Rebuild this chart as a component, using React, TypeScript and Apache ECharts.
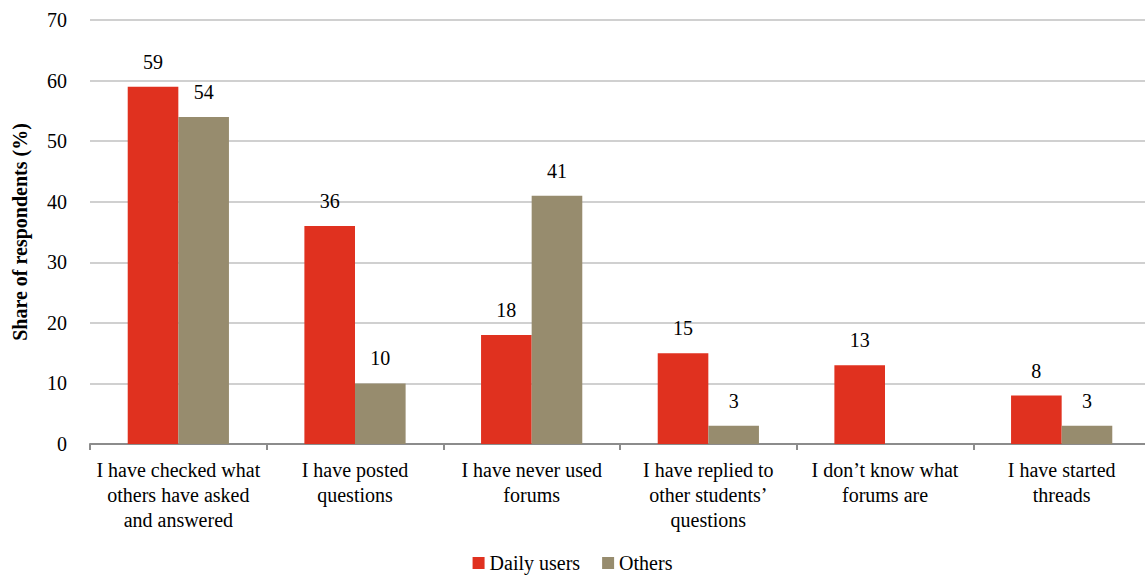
import React, { useEffect, useRef } from "react";
import * as echarts from "echarts";

// Forum activity by respondent group
const categories = [
  "I have checked what\nothers have asked\nand answered",
  "I have posted\nquestions",
  "I have never used\nforums",
  "I have replied to\nother students’\nquestions",
  "I don’t know what\nforums are",
  "I have started\nthreads",
];
const dailyUsers = [59, 36, 18, 15, 13, 8];
const others: (number | null)[] = [54, 10, 41, 3, null, 3];
const yTicks = { min: 0, max: 70, interval: 10 };

const FONT = "Times New Roman, serif";
const FS = 20;
const RED = "#E0311F";
const TAN = "#978C6E";

export default function App() {
  const ref = useRef<HTMLDivElement>(null);

  useEffect(() => {
    if (!ref.current) return;
    const chart = echarts.init(ref.current, null, { renderer: "svg" });
    const label = {
      show: true,
      position: "top" as const,
      distance: 15,
      color: "#000",
      fontFamily: FONT,
      fontSize: FS,
    };
    chart.setOption({
      animation: false,
      textStyle: { fontFamily: FONT },
      grid: {
        left: 90,
        right: -5,
        top: 20,
        bottom: 135,
        containLabel: false,
        outerBoundsMode: "none",
      },
      legend: {
        bottom: 1,
        left: "center",
        itemWidth: 12,
        itemHeight: 12,
        itemGap: 22,
        icon: "rect",
        textStyle: { fontFamily: FONT, fontSize: FS, color: "#000" },
        data: ["Daily users", "Others"],
      },
      xAxis: {
        type: "category",
        data: categories,
        axisLine: { lineStyle: { color: "#8C8C8C", width: 2 } },
        axisTick: { show: true, length: 6, lineStyle: { color: "#8C8C8C", width: 2 } },
        axisLabel: {
          color: "#000",
          fontFamily: FONT,
          fontSize: FS,
          lineHeight: 25,
          margin: 13,
          interval: 0,
        },
      },
      yAxis: {
        type: "value",
        min: yTicks.min,
        max: yTicks.max,
        interval: yTicks.interval,
        name: "Share of respondents (%)",
        nameLocation: "middle",
        nameGap: 60,
        nameTextStyle: { fontFamily: FONT, fontSize: FS, fontWeight: "bold", color: "#000" },
        axisLine: { show: false },
        axisTick: { show: false },
        axisLabel: { color: "#000", fontFamily: FONT, fontSize: FS, margin: 23 },
        splitLine: { lineStyle: { color: "#C0C0C0", width: 1.5 } },
      },
      series: [
        {
          name: "Daily users",
          type: "bar",
          data: dailyUsers,
          itemStyle: { color: RED },
          barGap: "0%",
          barCategoryGap: "42.7%",
          label,
        },
        {
          name: "Others",
          type: "bar",
          data: others,
          itemStyle: { color: TAN },
          barGap: "0%",
          barCategoryGap: "42.7%",
          label,
        },
      ],
    });
    return () => chart.dispose();
  }, []);

  return (
    <div
      ref={ref}
      style={{ position: "fixed", left: 0, top: 0, width: 1145, height: 579, background: "#fff" }}
    />
  );
}
